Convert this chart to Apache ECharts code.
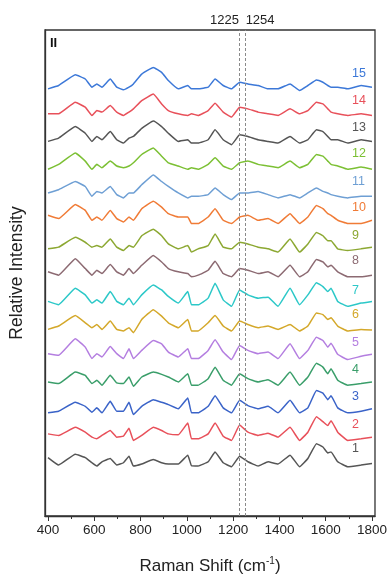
<!DOCTYPE html>
<html>
<head>
<meta charset="utf-8">
<script src="https://cdn.jsdelivr.net/npm/echarts@6/dist/echarts.min.js"></script>
<style>html,body{margin:0;padding:0;background:#fff}#c{width:390px;height:581px}</style>
</head>
<body>
<div id="c"></div>
<script>
// Raman shift sample positions (cm-1)
const xs = [400,446,518,561,590,611,633,669,697,726,750,769,805,855,891,920,963,1004,1020,1049,1092,1122,1157,1193,1228,1264,1308,1351,1394,1446,1487,1523,1560,1588,1609,1623,1652,1695,1753,1800];
// vertical offset of each spectrum (stacking)
const offsets = [50,75,103,131,158,186,211,241,266,295,321,350,376,403,431];
const names = ['1','2','3','4','5','6','7','8','9','10','11','12','13','14','15'];
const colors = ['#555555','#e8505a','#3a63c8','#3a9e6a','#b47ee0','#d4a82a','#2cc8c8','#8c6a72','#8ca832','#f07b36','#6e9fd4','#7cc034','#555555','#e8505a','#3c78d8'];
const xTickLabels = [400,600,800,1000,1200,1400,1600,1800];
const xMinorTicks = [500,700,900,1100,1300,1500,1700];
const markedPeaks = [1225,1254];

const s1 = [9.3,1.7,12.7,9.3,4,0.7,5,8.3,1.7,4,10.7,0.7,2.7,7.3,4,2.7,2.7,11.7,1,0.7,5,15,4,0,10.7,5,0.7,5,2.7,11.7,0,8.3,23.3,20,14,15,5,0,1.7,3.3];
const s2 = [8.3,6.7,15,10,5,3.3,6.7,11.7,5,6,14,1.7,6.7,15,11.7,8.3,7.3,19.3,3.3,3.3,8.3,19.3,6,1.7,17.3,10,6.7,9,5,15,1.7,10,25.7,20.7,16.7,21.7,10,1.7,3.3,5];
const s3 = [1.7,3.3,12.3,8.3,2.3,6.7,1.7,13.3,3.3,3.3,12.3,0,8.3,15,12.3,10,5.7,16.7,1.7,1.7,8.3,19,6.7,1.7,14.3,9,5.7,8.3,1.7,14.3,1.7,6.7,24.3,21.7,15,19,6.7,1.7,3.3,5.7];
const s4 = [5,3.3,15,11.7,3.3,6.7,1.7,11.7,4,3.3,10,0.7,10,15,12.7,10,5,13.3,1.7,1.7,8.3,20,6.7,1.7,13.3,8.3,5,7.3,1.7,15,1.7,10,24,20,13.3,18.3,6.7,1.7,3.3,5];
const s5 = [6.7,5,21.7,13.3,1.7,6.7,3.3,14,6.7,1.7,11.7,1.7,10,20,16.7,8.3,3.3,11.7,1.7,1.7,10,20.7,8.3,0.7,15,10,6.7,8.3,1.7,16.7,1.7,10,23.3,20,13.3,17.3,6,0.7,4,6];
const s6 = [3.3,6.7,17.3,10,5,8.3,3.3,11.7,3.3,1.7,5,0,13.3,23.3,16.7,10,5,13.3,1.7,1.7,10,17.3,6.7,1.7,11.7,8.3,5,6.7,3.3,8.3,1.7,6.7,20,18.3,13.3,15,6.7,1.7,3.3,2.7];
const s7 = [6.7,3.3,20,13.3,5,8.3,5,16.7,6.7,3.3,10,3.3,13.3,23.3,18.3,11.7,5,16.7,3.3,3.3,10,25,8.3,1.7,18.3,13.3,10,11,1.7,20,3.3,13.3,25.7,21.7,16.7,20,6.7,1.7,5,6.7];
const s8 = [6.7,3.3,20,10,3.3,8.3,5,14,6.7,3.3,10,5,13.3,23.3,16.7,10,6.7,5,1.7,3.3,8.3,17.3,5,1.7,10,8.3,5,6.7,1.7,13.3,1.7,6.7,19.3,16.7,11.7,13.3,6.7,1.7,1.7,3.3];
const s9 = [5,6.7,16.7,11.7,6.7,8.3,6.7,15,6.7,3.3,8.3,6.7,18.3,25,18.3,10,5,8.3,1.7,5,8.3,20,6.7,5,11.7,10,6.7,5,1.7,15,1.7,10,21.7,18.3,13.3,13.3,5,3.3,5,6.7];
const s10 = [10,6.7,21,15,5,8.3,5,15,6.7,3.3,8.3,5,16.7,24.3,18.3,11.7,8.3,8.3,1.7,1.7,8.3,16.7,5,1.7,8.3,10,5,6.7,1.7,11.7,1.7,8.3,20,16.7,11.7,10,5,1.7,1.7,5];
const s11 = [6.7,10,18.3,13.3,3.3,8.3,6.7,13.3,5,1.7,6.7,6.7,15,25,18.3,13.3,6.7,1.7,3.3,3.3,5,11.7,5,0,6.7,6.7,8.3,5,1.7,5,1.7,6.7,11.7,8.3,6.7,5,3.3,1.7,3.3,3.3];
const s12 = [1.7,6.7,18.3,10,1.7,6.7,3.3,10,5,3.3,5,8.3,16.7,23.3,15,8.3,5,1.7,3.3,1.7,6.7,13.3,5,1.7,8.3,10,6.7,5,3.3,10,3.3,6.7,16.7,15,10,6.7,5,1.7,4,1.7];
const s13 = [4,7.3,19,12.3,4,9,5.7,14,5.7,2.3,7.3,9,17.3,24.7,19,12.3,4,5.7,2.3,2.3,5.7,15.7,5.7,0.7,10.7,9,5.7,4,2.3,9,2.3,5.7,15.7,14,9,5.7,5.7,2.3,5.7,4];
const s14 = [5,5,16.7,11.7,3.3,8.3,6.7,13.3,6.7,3.3,6.7,10,18.3,25,15,8.3,5,3.3,5,3.3,8.3,15.7,6.7,1.7,11.7,10,6.7,5,3.3,10,5,8.3,16.7,15,10,6.7,5,3.3,5,3.3];
const s15 = [2.3,5.7,16.7,12.3,4,7.3,4,12.3,4,1.3,4,7.3,17.3,24,19,10.7,2.3,5.7,2.3,2.3,4,12.3,5.7,2.3,9,7.3,5.7,2.3,2.3,7.3,0.7,5.7,11.3,9,5.7,4,4,2.3,5.7,4];
const spectra = [s1,s2,s3,s4,s5,s6,s7,s8,s9,s10,s11,s12,s13,s14,s15];

const FONT = 'Liberation Sans, Arial, sans-serif';
const chart = echarts.init(document.getElementById('c'), null, {renderer:'canvas'});

const series = spectra.map((vals, i) => {
  const s = {
    type: 'line',
    name: names[i],
    data: xs.map((x, j) => [x, offsets[i] + vals[j]]),
    showSymbol: false,
    symbol: 'none',
    smooth: 0.1,
    lineStyle: {color: colors[i], width: 1.5},
    itemStyle: {color: colors[i]},
    z: 3,
    markPoint: {
      symbol: 'circle', symbolSize: 0, silent: true,
      label: {show: true, position: 'inside', align: 'left', verticalAlign: 'middle',
        color: colors[i], fontSize: 12.5, fontFamily: FONT, formatter: names[i]},
      data: [{coord: [1714, offsets[i] + 18]}]
    }
  };
  if (i === 0) {
    s.markLine = {
      symbol: ['none','none'], silent: true, animation: false,
      lineStyle: {type: [3,2], color: '#8a8a8a', width: 1},
      data: markedPeaks.map((p, k) => ({
        xAxis: p,
        label: {show: true, position: 'end', formatter: String(p), align: k === 0 ? 'right' : 'left',
          color: '#222', fontSize: 13, fontFamily: FONT, distance: 3}
      }))
    };
  }
  return s;
});

chart.setOption({
  animation: false,
  backgroundColor: '#fff',
  title: {text: 'II', left: 45, top: 32, textStyle: {fontSize: 13, fontWeight: 'bold', color: '#111', fontFamily: FONT}},
  grid: {left: 45, right: 14, top: 30, height: 493, show: true, borderColor: '#333', borderWidth: 1.3, backgroundColor: 'transparent'},
  xAxis: [{
    type: 'value', min: 387, max: 1813,
    name: 'Raman Shift (cm{sup|-1})', nameLocation: 'middle', nameGap: 40,
    nameTextStyle: {fontSize: 17, color: '#222', fontFamily: FONT, lineHeight: 20,
      rich: {sup: {fontSize: 10, verticalAlign: 'top', lineHeight: 12, color: '#222', fontFamily: FONT}}},
    axisLine: {show: true, lineStyle: {color: '#333', width: 1.3}},
    axisTick: {show: true, length: 5, customValues: xTickLabels, lineStyle: {color: '#333'}},
    axisLabel: {customValues: xTickLabels, formatter: v => String(v), fontSize: 13.5, color: '#222', fontFamily: FONT, margin: 7},
    splitLine: {show: false}
  }, {
    type: 'value', min: 387, max: 1813, position: 'bottom',
    axisLine: {show: false},
    axisTick: {show: true, length: 3, customValues: xMinorTicks, lineStyle: {color: '#333'}},
    axisLabel: {show: false},
    splitLine: {show: false}
  }],
  yAxis: {
    type: 'value', min: 0, max: 493,
    name: 'Relative Intensity', nameLocation: 'middle', nameGap: 19, nameRotate: 90,
    nameTextStyle: {fontSize: 17.5, color: '#222', fontFamily: FONT},
    axisLine: {show: true, lineStyle: {color: '#333', width: 1.3}},
    axisTick: {show: false}, axisLabel: {show: false}, splitLine: {show: false}
  },
  series: series
});
</script>
</body>
</html>
